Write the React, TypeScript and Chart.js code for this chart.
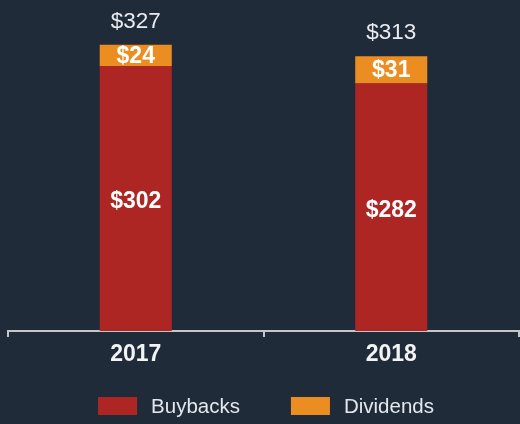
import React, { useEffect, useRef } from "react";
import { Chart, registerables } from "chart.js";

Chart.register(...registerables);

const categories = ["2017", "2018"];
const buybacks = [302, 282];
const dividends = [24, 31];
const totals = [327, 313];
const seriesNames = ["Buybacks", "Dividends"];

const BG = "#202b3a";
const RED = "#ad2623";
const ORANGE = "#ec8d22";
const FONT = "'Liberation Sans', Arial, Helvetica, sans-serif";

const labelsPlugin = {
  id: "valueLabels",
  afterDatasetsDraw(chart: any) {
    const ctx = chart.ctx;
    ctx.save();
    ctx.textAlign = "center";
    ctx.textBaseline = "middle";
    chart.data.datasets.forEach((ds: any, di: number) => {
      const meta = chart.getDatasetMeta(di);
      meta.data.forEach((el: any, i: number) => {
        const { x, y, base } = el.getProps(["x", "y", "base"], true);
        const big = base - y > 100;
        ctx.fillStyle = "#ffffff";
        ctx.font = `bold 23px ${FONT}`;
        ctx.fillText("$" + ds.data[i], x, (y + base) / 2 + (big ? 3 : 1));
      });
    });
    const topMeta = chart.getDatasetMeta(chart.data.datasets.length - 1);
    topMeta.data.forEach((el: any, i: number) => {
      const { x, y } = el.getProps(["x", "y"], true);
      ctx.fillStyle = "#e9ebee";
      ctx.font = `22.5px ${FONT}`;
      ctx.fillText("$" + totals[i], x, y - 23);
    });
    ctx.restore();
  },
};

const legendPlugin = {
  id: "customLegend",
  afterDraw(chart: any) {
    const ctx = chart.ctx;
    ctx.save();
    ctx.font = `20.5px ${FONT}`;
    ctx.textBaseline = "middle";
    ctx.textAlign = "left";
    const boxW = 39;
    const boxH = 18;
    const gapText = 14;
    const gapItem = 51;
    const items = chart.data.datasets.map((ds: any) => ({
      text: ds.label,
      color: ds.backgroundColor,
      w: ctx.measureText(ds.label).width,
    }));
    const total =
      items.reduce((s: number, it: any) => s + boxW + gapText + it.w, 0) +
      gapItem * (items.length - 1);
    const ca = chart.chartArea;
    let x = (ca.left + ca.right) / 2 + 2.5 - total / 2;
    const cy = 406;
    items.forEach((it: any) => {
      ctx.fillStyle = it.color;
      ctx.fillRect(x, cy - boxH / 2, boxW, boxH);
      ctx.fillStyle = "#e4e7eb";
      ctx.fillText(it.text, x + boxW + gapText, cy + 1.5);
      x += boxW + gapText + it.w + gapItem;
    });
    ctx.restore();
  },
};

export default function App() {
  const canvasRef = useRef<HTMLCanvasElement | null>(null);

  useEffect(() => {
    if (!canvasRef.current) return;
    const chart = new Chart(canvasRef.current, {
      type: "bar",
      data: {
        labels: categories,
        datasets: [
          {
            label: seriesNames[0],
            data: buybacks,
            backgroundColor: RED,
            borderWidth: 0,
            barPercentage: 0.282,
            categoryPercentage: 1,
          },
          {
            label: seriesNames[1],
            data: dividends,
            backgroundColor: ORANGE,
            borderWidth: 0,
            barPercentage: 0.282,
            categoryPercentage: 1,
          },
        ],
      },
      options: {
        responsive: false,
        animation: false,
        layout: { padding: { left: 8, right: 1, top: 15, bottom: 51.4 } },
        plugins: {
          legend: { display: false },
          tooltip: { enabled: false },
        },
        scales: {
          x: {
            stacked: true,
            grid: {
              offset: true,
              drawOnChartArea: false,
              drawTicks: true,
              tickLength: 6,
              color: "#c4c6c9",
              lineWidth: 2,
            },
            border: { display: true, color: "#c4c6c9", width: 2 },
            ticks: {
              color: "#f2f3f5",
              font: { family: FONT, size: 23, weight: "bold" },
              padding: 4,
            },
          },
          y: {
            stacked: true,
            display: false,
            min: 0,
            max: 360,
          },
        },
      },
      plugins: [labelsPlugin, legendPlugin],
    });
    return () => chart.destroy();
  }, []);

  return (
    <div
      style={{
        position: "absolute",
        left: 0,
        top: 0,
        width: 520,
        height: 424,
        background: BG,
      }}
    >
      <canvas ref={canvasRef} width={520} height={424} style={{ display: "block" }} />
    </div>
  );
}
